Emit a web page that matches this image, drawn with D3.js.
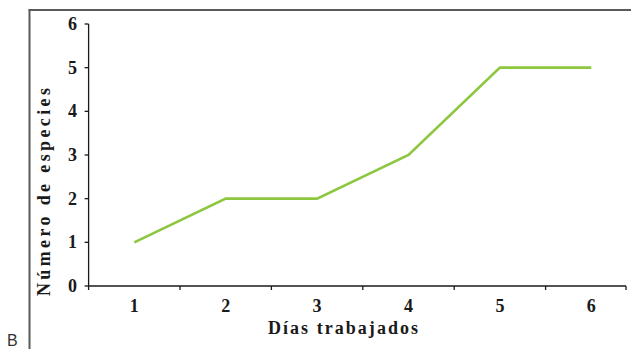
<!DOCTYPE html>
<html>
<head>
<meta charset="utf-8">
<script src="https://cdn.jsdelivr.net/npm/d3@7"></script>
<style>
  html, body { margin: 0; padding: 0; background: #fff; }
  svg { display: block; }
</style>
</head>
<body>
<svg id="chart" width="631" height="349"></svg>
<script>
// Días trabajados vs. número acumulado de especies
const days = [1, 2, 3, 4, 5, 6];
const species = [1, 2, 2, 3, 5, 5];
const yTicks = [0, 1, 2, 3, 4, 5, 6];
const xTitle = "Días trabajados";
const yTitle = "Número de especies";
const panelLabel = "B";

const svg = d3.select("#chart");
const serif = "Liberation Serif, serif";

const plotLeft = 88.6, plotRight = 637, axisEnd = 626, plotTop = 24, plotBottom = 286;

const x = d3.scaleLinear().domain([0.5, 6.5]).range([plotLeft, plotRight]);
const y = d3.scaleLinear().domain([0, 6]).range([plotBottom, plotTop]);

// panel frame
svg.append("line").attr("x1", 29.5).attr("x2", 29.5).attr("y1", 9.5).attr("y2", 349)
  .attr("stroke", "#5a5a5a").attr("stroke-width", 2);
svg.append("line").attr("x1", 28.5).attr("x2", 631).attr("y1", 10).attr("y2", 10)
  .attr("stroke", "#5a5a5a").attr("stroke-width", 2);

svg.append("text").attr("x", 7).attr("y", 346)
  .attr("font-family", "Liberation Sans, sans-serif").attr("font-size", 16)
  .attr("fill", "#333").text(panelLabel);

// y axis
const gy = svg.append("g").attr("transform", `translate(${plotLeft},0)`);
gy.append("line").attr("x1", 0).attr("x2", 0).attr("y1", y(6)).attr("y2", y(0))
  .attr("stroke", "#1a1a1a").attr("stroke-width", 1.3);
gy.selectAll("line.tick").data(yTicks).join("line").attr("class", "tick")
  .attr("x1", -4).attr("x2", 0).attr("y1", d => y(d)).attr("y2", d => y(d))
  .attr("stroke", "#1a1a1a").attr("stroke-width", 1.3);
gy.selectAll("text").data(yTicks).join("text")
  .attr("x", -11.5).attr("y", d => y(d)).attr("dy", "0.34em")
  .attr("text-anchor", "end").attr("font-family", serif).attr("font-weight", "bold")
  .attr("font-size", 18).attr("fill", "#1a1a1a").text(d => d);

// x axis
const gx = svg.append("g").attr("transform", `translate(0,${plotBottom})`);
gx.append("line").attr("x1", plotLeft).attr("x2", axisEnd).attr("y1", 0).attr("y2", 0)
  .attr("stroke", "#1a1a1a").attr("stroke-width", 1.3);
const bounds = days.slice(0, -1).map(d => x(d + 0.5)).concat([plotLeft, axisEnd]);
gx.selectAll("line.tick").data(bounds).join("line").attr("class", "tick")
  .attr("x1", d => d).attr("x2", d => d).attr("y1", 0).attr("y2", 4)
  .attr("stroke", "#1a1a1a").attr("stroke-width", 1.3);
gx.selectAll("text").data(days).join("text")
  .attr("x", d => x(d)).attr("y", 25.5)
  .attr("text-anchor", "middle").attr("font-family", serif).attr("font-weight", "bold")
  .attr("font-size", 18).attr("fill", "#1a1a1a").text(d => d);

// axis titles
svg.append("text").attr("x", 343).attr("y", 334).attr("text-anchor", "middle")
  .attr("font-family", serif).attr("font-weight", "bold").attr("font-size", 18)
  .attr("textLength", 150).attr("lengthAdjust", "spacing")
  .attr("fill", "#1a1a1a").text(xTitle);
svg.append("text").attr("transform", "translate(50,192) rotate(-90)").attr("text-anchor", "middle")
  .attr("font-family", serif).attr("font-weight", "bold").attr("font-size", 18)
  .attr("textLength", 208).attr("lengthAdjust", "spacing")
  .attr("fill", "#1a1a1a").text(yTitle);

// series line
const line = d3.line().x((d, i) => x(days[i])).y(d => y(d));
svg.append("path").datum(species).attr("d", line)
  .attr("fill", "none").attr("stroke", "#8dc63f").attr("stroke-width", 2.6)
  .attr("stroke-linejoin", "miter");
</script>
</body>
</html>
